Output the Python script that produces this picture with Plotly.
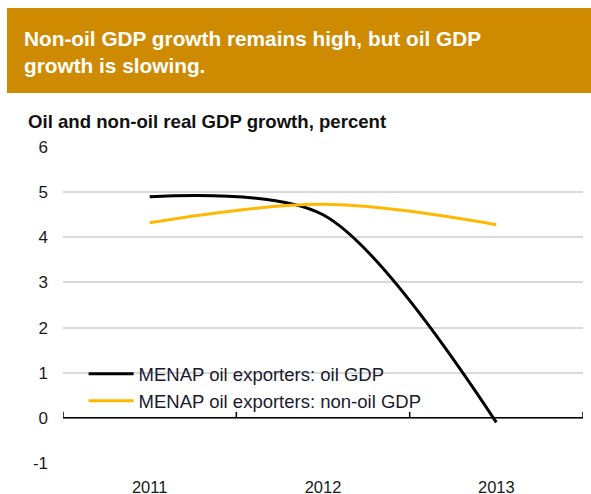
import plotly.graph_objects as go

years = ["2011", "2012", "2013"]
oil_gdp = [4.9, 4.5, -0.1]
non_oil_gdp = [4.32, 4.73, 4.28]
y_ticks = [-1, 0, 1, 2, 3, 4, 5, 6]
y_tick_labels = ["-1", "0", "1", "2", "3", "4", "5", "6"]

title_text = "Non-oil GDP growth remains high, but oil GDP<br>growth is slowing."
subtitle_text = "Oil and non-oil real GDP growth, percent"

xpos = list(range(len(years)))

fig = go.Figure()
fig.add_trace(go.Scatter(
    x=xpos, y=oil_gdp, mode="lines", name="MENAP oil exporters: oil GDP",
    line=dict(color="#000000", width=3, shape="spline", smoothing=0.85),
))
fig.add_trace(go.Scatter(
    x=xpos, y=non_oil_gdp, mode="lines", name="MENAP oil exporters: non-oil GDP",
    line=dict(color="#FFB800", width=3, shape="spline", smoothing=1.0),
))

font_family = "Liberation Sans, Arial, sans-serif"

# Banner
fig.add_shape(type="rect", xref="paper", yref="paper",
              x0=-56/520, x1=1 + 8/520, y0=1 + (147-93)/316, y1=1 + (147-8)/316,
              fillcolor="#CE8A00", line=dict(width=0), layer="below")
fig.add_annotation(xref="paper", yref="paper", x=-41/520, y=1 + (147-25)/316,
                   xanchor="left", yanchor="top", align="left", showarrow=False,
                   text="<b>" + title_text + "</b>",
                   font=dict(family=font_family, size=20.8, color="white"))
fig.add_annotation(xref="paper", yref="paper", x=-37/520, y=1 + (147-121)/316,
                   xanchor="left", yanchor="middle", align="left", showarrow=False,
                   text="<b>" + subtitle_text + "</b>",
                   font=dict(family=font_family, size=18.6, color="#111111"))

# zero axis line with category boundary ticks
fig.add_shape(type="line", xref="x", yref="y", x0=-0.5, x1=len(years) - 0.5, y0=0, y1=0,
              line=dict(color="#000000", width=1.5))
for b in [i - 0.5 for i in range(len(years) + 1)]:
    fig.add_shape(type="line", xref="x", yref="y", ysizemode="pixel", yanchor=0,
                  x0=b, x1=b, y0=0, y1=6, line=dict(color="#000000", width=1.5))

fig.update_layout(
    width=591, height=494,
    margin=dict(l=63, r=8, t=147, b=31, autoexpand=False),
    paper_bgcolor="white", plot_bgcolor="white",
    font=dict(family=font_family, size=16.5, color="#1a1a1a"),
    showlegend=True,
    legend=dict(x=0.03 + 5/520, y=0.238, xanchor="left", yanchor="middle",
                bgcolor="rgba(0,0,0,0)", font=dict(size=18.5, color="#1a1a2e"),
                itemwidth=45, tracegroupgap=0),
    xaxis=dict(range=[-0.5, len(years) - 0.5], tickvals=xpos, ticktext=years,
               showgrid=False, zeroline=False, showline=False, ticks="",
               ticklabelstandoff=12, automargin=False, fixedrange=True),
    yaxis=dict(range=[-1, 6], tickvals=y_ticks, ticktext=y_tick_labels,
               showgrid=True, gridcolor="#D9D9D9",
               gridwidth=1.5, zeroline=False, showline=False, ticks="",
               ticklabelstandoff=14, tickfont=dict(size=17), automargin=False,
               fixedrange=True),
)

fig.write_html("out.html")
